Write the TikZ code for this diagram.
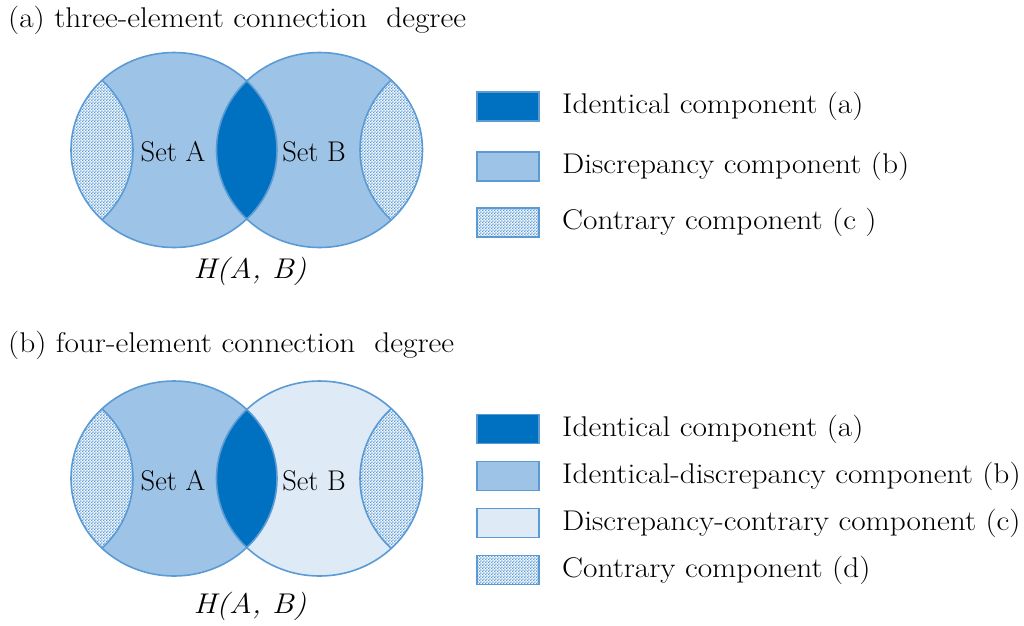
\documentclass[tikz,border=0pt]{standalone}
\usetikzlibrary{patterns}
\definecolor{dk}{HTML}{0070C0}
\definecolor{md}{HTML}{9DC3E6}
\definecolor{lt}{HTML}{DEEBF7}
\definecolor{bd}{HTML}{5B9BD5}
\pgfdeclarepatternformonly{finechecker}{\pgfpointorigin}{\pgfqpoint{3.2pt}{3.2pt}}{\pgfqpoint{3.2pt}{3.2pt}}{%
  \pgfpathrectangle{\pgfpointorigin}{\pgfqpoint{1.6pt}{1.6pt}}%
  \pgfpathrectangle{\pgfqpoint{1.6pt}{1.6pt}}{\pgfqpoint{1.6pt}{1.6pt}}%
  \pgfusepath{fill}}
\tikzset{
  txt/.style={inner sep=0pt, font=\fontsize{28.5}{33}\selectfont, xscale=1.1},
  settxt/.style={inner sep=0pt, font=\fontsize{28.5}{33}\selectfont},
  lbl/.style={txt, anchor=west},
  outl/.style={draw=bd, line width=1.6pt},
  legbox/.style={draw=bd, line width=1.4pt, minimum width=62pt, minimum height=29pt, inner sep=0pt},
  hatch/.style={pattern=finechecker, pattern color=bd},
}
\newcommand{\myell}[1]{(#1) ellipse [x radius=103pt, y radius=97.5pt]}
\begin{document}
\begin{tikzpicture}[x=1pt,y=-1pt]
\useasboundingbox (0,0) rectangle (1024,625);
% ---------- (a) ----------
\node[lbl] (ta) at (8,20) {(a) three-element connection\ \ degree};
\coordinate (A1) at (174,150);
\coordinate (B1) at (319.5,150);
\coordinate (PA1) at (30,150);
\coordinate (PB1) at (463,150);
\fill[md] \myell{A1};
\fill[md] \myell{B1};
\begin{scope}\clip \myell{A1};
  \fill[white] \myell{PA1}; \fill[hatch] \myell{PA1}; \draw[outl] \myell{PA1};
\end{scope}
\begin{scope}\clip \myell{B1};
  \fill[white] \myell{PB1}; \fill[hatch] \myell{PB1}; \draw[outl] \myell{PB1};
\end{scope}
\begin{scope}\clip \myell{A1};
  \fill[dk] \myell{B1};
\end{scope}
\draw[outl] \myell{A1};
\draw[outl] \myell{B1};
\node[settxt] (sa1) at (173,152) {Set A};
\node[settxt] (sb1) at (314,152) {Set B};
\node[txt] (h1) at (250,271) {\itshape H(A, B)};
\node[legbox, fill=dk] (la1) at (508,106.5) {};
\node[legbox, fill=md] (la2) at (508,166.5) {};
\node[legbox, fill=white] (la3w) at (508,222.5) {};
\node[legbox, hatch] (la3) at (508,222.5) {};
\node[lbl] at (562,106.5) {Identical component (a)};
\node[lbl] at (562,166.5) {Discrepancy component (b)};
\node[lbl] at (562,222.5) {Contrary component (c )};
% ---------- (b) ----------
\node[lbl] (tb) at (8,345) {(b) four-element connection\ \ degree};
\coordinate (A2) at (174,478.5);
\coordinate (B2) at (319.5,478.5);
\coordinate (PA2) at (30,478.5);
\coordinate (PB2) at (463,478.5);
\fill[md] \myell{A2};
\fill[lt] \myell{B2};
\begin{scope}\clip \myell{A2};
  \fill[white] \myell{PA2}; \fill[hatch] \myell{PA2}; \draw[outl] \myell{PA2};
\end{scope}
\begin{scope}\clip \myell{B2};
  \fill[white] \myell{PB2}; \fill[hatch] \myell{PB2}; \draw[outl] \myell{PB2};
\end{scope}
\begin{scope}\clip \myell{A2};
  \fill[dk] \myell{B2};
\end{scope}
\draw[outl] \myell{A2};
\draw[outl] \myell{B2};
\node[settxt] (sa2) at (173,481) {Set A};
\node[settxt] (sb2) at (314,481) {Set B};
\node[txt] (h2) at (250,606) {\itshape H(A, B)};
\node[legbox, fill=dk] (lb1) at (508,429) {};
\node[legbox, fill=md] (lb2) at (508,476) {};
\node[legbox, fill=lt] (lb3) at (508,523) {};
\node[legbox, fill=white] (lb4w) at (508,570) {};
\node[legbox, hatch] (lb4) at (508,570) {};
\node[lbl] at (562,429) {Identical component (a)};
\node[lbl] at (562,476) {Identical-discrepancy component (b)};
\node[lbl] at (562,523) {Discrepancy-contrary component (c)};
\node[lbl] at (562,570) {Contrary component (d)};
\end{tikzpicture}
\end{document}
